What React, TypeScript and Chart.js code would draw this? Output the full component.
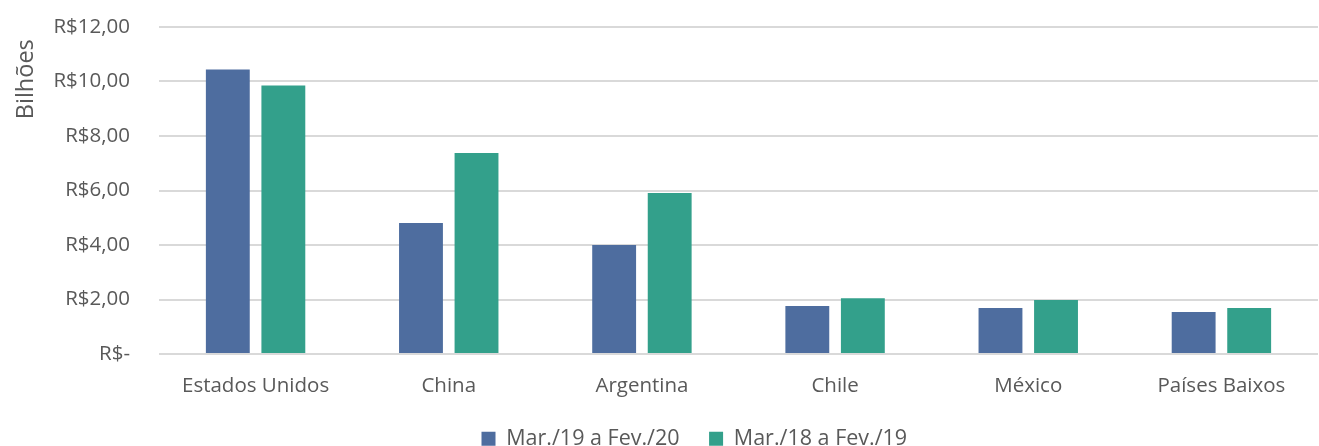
import React, { useEffect, useRef } from "react";
import { Chart, registerables } from "chart.js";

Chart.register(...registerables);

const categories = ["Estados Unidos", "China", "Argentina", "Chile", "México", "Países Baixos"];
const seriesNames = ["Mar./19 a Fev./20", "Mar./18 a Fev./19"];
const values2020 = [10.44, 4.81, 4.0, 1.76, 1.69, 1.54];
const values2019 = [9.85, 7.38, 5.91, 2.05, 1.98, 1.69];
const yTicks = [0, 2, 4, 6, 8, 10, 12];
const yTickLabels = ["R$-", "R$2,00", "R$4,00", "R$6,00", "R$8,00", "R$10,00", "R$12,00"];
const yTitle = "Bilhões";

const BLUE = "#4E6D9F";
const GREEN = "#33A08B";
const TEXT = "#595959";
const FONT = "'Open Sans', sans-serif";
const FS = 20.5;
const LEGEND_FS = 21.5;
const TITLE_FS = 23.5;
const LEGEND_PAD = 29.5;
const LEGEND_MAX_H = 47.4;
const LEGEND_LEFT = 452;

const legendShift = {
  id: "legendShift",
  afterUpdate(chart: any) {
    if (chart.legend) chart.legend.left = LEGEND_LEFT;
  },
};

export default function App() {
  const ref = useRef<HTMLCanvasElement | null>(null);
  useEffect(() => {
    if (!ref.current) return;
    const chart = new Chart(ref.current, {
      type: "bar",
      data: {
        labels: categories,
        datasets: [
          {
            label: seriesNames[0],
            data: values2020,
            backgroundColor: BLUE,
            borderWidth: 0,
            categoryPercentage: 0.575,
            barPercentage: 0.79,
          },
          {
            label: seriesNames[1],
            data: values2019,
            backgroundColor: GREEN,
            borderWidth: 0,
            categoryPercentage: 0.575,
            barPercentage: 0.79,
          },
        ],
      },
      plugins: [legendShift],
      options: {
        animation: false,
        responsive: false,
        maintainAspectRatio: false,
        layout: { padding: { top: 27, right: 1, left: 0, bottom: 0 } },
        plugins: {
          tooltip: { enabled: false },
          legend: {
            position: "bottom",
            align: "start",
            maxHeight: LEGEND_MAX_H,
            labels: {
              color: TEXT,
              font: { family: FONT, size: LEGEND_FS },
              boxWidth: 14,
              boxHeight: 14,
              padding: LEGEND_PAD,
            },
          },
        },
        scales: {
          x: {
            grid: { display: false, drawTicks: true, tickLength: 20 },
            border: { display: false },
            ticks: { color: TEXT, font: { family: FONT, size: FS }, padding: 0 },
          },
          y: {
            min: 0,
            max: 12,
            afterBuildTicks: (axis: any) => {
              axis.ticks = yTicks.map((v) => ({ value: v }));
            },
            afterFit: (axis: any) => {
              axis.width = 159;
            },
            grid: {
              color: "#D9D9D9",
              lineWidth: 2,
              drawTicks: true,
              tickLength: 25,
              tickColor: "rgba(0,0,0,0)",
            },
            border: { display: false },
            ticks: {
              color: TEXT,
              font: { family: FONT, size: FS },
              padding: 4,
              callback: (v: any) => {
                const i = yTicks.indexOf(Number(v));
                return i >= 0 ? yTickLabels[i] : "";
              },
            },
            title: {
              display: true,
              text: yTitle + "  ",
              align: "end",
              color: TEXT,
              font: { family: FONT, size: TITLE_FS },
              padding: { top: 12, bottom: 0 },
            },
          },
        },
      },
    });
    return () => chart.destroy();
  }, []);
  return (
    <div style={{ position: "fixed", left: 0, top: 0, width: 1319, height: 446, overflow: "hidden", background: "#fff" }}>
      <canvas ref={ref} width={1319} height={446} style={{ width: 1319, height: 446 }} />
    </div>
  );
}
